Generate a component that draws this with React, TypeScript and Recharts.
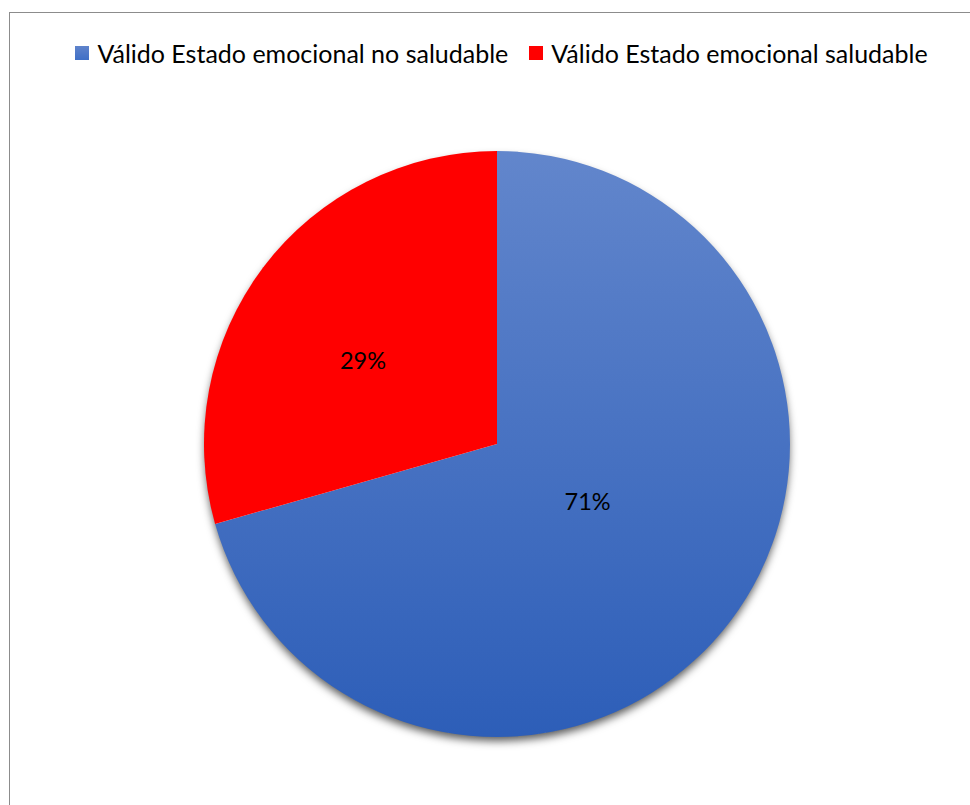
import React from 'react';
import { PieChart, Pie, Cell, Legend } from 'recharts';

const categories = ['Válido Estado emocional no saludable', 'Válido Estado emocional saludable'];
const values = [70.6, 29.4];
const sliceFills = ['url(#blueGrad)', '#FF0000'];
const legendFills = ['linear-gradient(#5f83cb, #3f6fc6)', '#FF0000'];

const data = categories.map((name, i) => ({ name, value: values[i] }));
const shadowData = [{ name: 'shadow', value: 1 }];

const RAD = Math.PI / 180;
const labelRadiusFactor = [0.365, 0.54];
const FONT = 'Lato, "Open Sans", sans-serif';

const renderLabel = (props: any) => {
  const { cx, cy, midAngle, outerRadius, percent, index } = props;
  const r = outerRadius * labelRadiusFactor[index];
  const a = (midAngle + 5) * RAD;
  const x = cx + r * Math.cos(a);
  const y = cy - r * Math.sin(a);
  return (
    <text x={x} y={y} textAnchor="middle" dominantBaseline="central" fill="#000" fontSize={23.5} fontFamily={FONT}>
      {`${Math.round(percent * 100)}%`}
    </text>
  );
};

const LegendContent = () => (
  <div
    style={{
      display: 'flex',
      justifyContent: 'center',
      alignItems: 'center',
      fontFamily: FONT,
      fontSize: 25,
      color: '#000',
      whiteSpace: 'nowrap',
      lineHeight: '28px',
    }}
  >
    {categories.map((c, i) => (
      <div key={c} style={{ display: 'flex', alignItems: 'center', marginRight: i === 0 ? 21 : 0 }}>
        <span style={{ width: 14, height: 14, background: legendFills[i], marginRight: 8, display: 'inline-block' }} />
        <span>{c}</span>
      </div>
    ))}
  </div>
);

export default function App() {
  return (
    <div
      style={{
        position: 'fixed',
        left: 9,
        top: 12,
        width: 980,
        height: 820,
        borderLeft: '1px solid #8c8c8c',
        borderTop: '1px solid #8c8c8c',
        background: '#fff',
      }}
    >
      <PieChart width={961} height={793} margin={{ top: 0, right: 0, bottom: 0, left: 0 }}>
        <defs>
          <linearGradient id="blueGrad" x1="0" y1="0" x2="0" y2="1">
            <stop offset="0%" stopColor="#6286CC" />
            <stop offset="100%" stopColor="#2D5EB8" />
          </linearGradient>
          <filter id="pieShadow" x="-10%" y="-10%" width="120%" height="125%">
            <feDropShadow dx="0" dy="5" stdDeviation="4" floodColor="#000" floodOpacity="0.65" />
          </filter>
        </defs>
        <Legend verticalAlign="top" content={<LegendContent />} wrapperStyle={{ top: 26, left: 22, width: 939 }} />
        <Pie
          data={shadowData}
          dataKey="value"
          cx={487}
          cy={403}
          outerRadius={292}
          startAngle={90}
          endAngle={-270}
          stroke="none"
          isAnimationActive={false}
          legendType="none"
        >
          <Cell fill="#fff" filter="url(#pieShadow)" />
        </Pie>
        <Pie
          data={data}
          dataKey="value"
          nameKey="name"
          cx={487}
          cy={403}
          outerRadius={293}
          startAngle={90}
          endAngle={-270}
          stroke="none"
          label={renderLabel}
          labelLine={false}
          isAnimationActive={false}
        >
          {data.map((d, i) => (
            <Cell key={d.name} fill={sliceFills[i]} />
          ))}
        </Pie>
      </PieChart>
    </div>
  );
}
